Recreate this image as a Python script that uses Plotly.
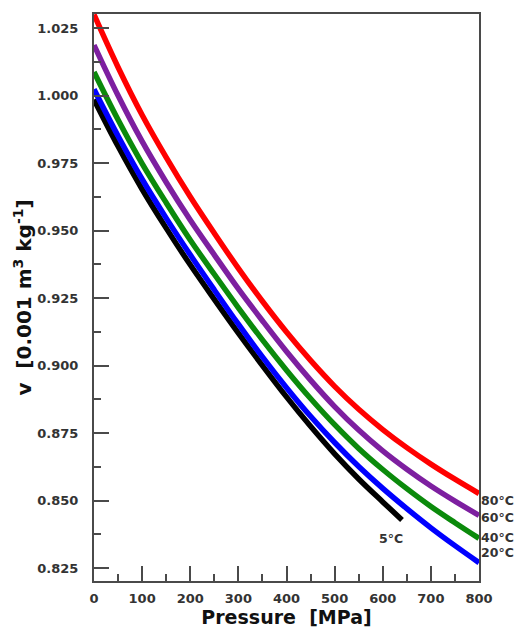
import plotly.graph_objects as go

pressure = [0, 50, 100, 150, 200, 250, 300, 350, 400, 450, 500, 550, 600, 650, 700, 750, 800]
v_80 = [1.0300, 1.0105, 0.9928, 0.9771, 0.9625, 0.9490, 0.9360, 0.9238, 0.9124, 0.9019,
        0.8923, 0.8838, 0.8763, 0.8696, 0.8635, 0.8579, 0.8526]
v_60 = [1.0187, 1.0000, 0.9830, 0.9679, 0.9539, 0.9410, 0.9284, 0.9166, 0.9052, 0.8946,
        0.8848, 0.8761, 0.8684, 0.8616, 0.8554, 0.8498, 0.8445]
v_40 = [1.0087, 0.9910, 0.9748, 0.9603, 0.9465, 0.9338, 0.9214, 0.9095, 0.8983, 0.8878,
        0.8781, 0.8693, 0.8615, 0.8544, 0.8478, 0.8418, 0.8360]
v_20 = [1.0023, 0.9850, 0.9690, 0.9546, 0.9410, 0.9280, 0.9153, 0.9032, 0.8918, 0.8812,
        0.8715, 0.8626, 0.8545, 0.8470, 0.8399, 0.8333, 0.8270]
pressure_5 = [0, 50, 100, 150, 200, 250, 300, 350, 400, 450, 500, 550, 600, 640]
v_5 = [0.9985, 0.9812, 0.9653, 0.9509, 0.9373, 0.9245, 0.9120, 0.9000, 0.8884, 0.8775,
       0.8673, 0.8580, 0.8495, 0.8428]

x_ticks = [0, 100, 200, 300, 400, 500, 600, 700, 800]
y_ticks = [0.825, 0.85, 0.875, 0.9, 0.925, 0.95, 0.975, 1.0, 1.025]

series = [
    ("5°C", pressure_5, v_5, "#000000"),
    ("20°C", pressure, v_20, "#0000ff"),
    ("40°C", pressure, v_40, "#0b8a0b"),
    ("60°C", pressure, v_60, "#7d1fa0"),
    ("80°C", pressure, v_80, "#ff0000"),
]

fig = go.Figure()
for name, xs, ys, col in series:
    fig.add_trace(go.Scatter(x=xs, y=ys, mode="lines", name=name,
                             line=dict(color=col, width=5.5, shape="spline"),
                             showlegend=False))

FONT = "DejaVu Sans"
label_font = dict(family=FONT, size=12.5, color="#333333")
end_labels = [("80°C", 0.8500), ("60°C", 0.8437), ("40°C", 0.8363), ("20°C", 0.8307)]
for txt, yv in end_labels:
    fig.add_annotation(x=800, y=yv, text="<b>%s</b>" % txt, showarrow=False,
                       xanchor="left", yanchor="middle", xshift=0, font=label_font)
fig.add_annotation(x=617, y=0.8359, text="<b>5°C</b>", showarrow=False,
                   xanchor="center", yanchor="middle", font=label_font)

axis_font = dict(family=FONT, size=13, color="#333333")
fig.update_layout(
    width=518, height=635,
    margin=dict(l=94, r=39, t=14, b=54),
    paper_bgcolor="white", plot_bgcolor="white",
    xaxis=dict(range=[0, 800], tickvals=x_ticks,
               ticktext=["<b>%d</b>" % t for t in x_ticks],
               ticks="inside", ticklen=15, tickwidth=1.5, tickcolor="#4a4a4a",
               minor=dict(ticks="inside", ticklen=7, tickwidth=1.5, tickcolor="#4a4a4a", dtick=50, showgrid=False),
               showline=True, linecolor="#4a4a4a", linewidth=2, mirror=True,
               showgrid=False, zeroline=False, tickfont=axis_font, ticklabelstandoff=4,
               title=dict(text="<b>Pressure  [MPa]</b>", font=dict(family=FONT, size=19, color="#111111"), standoff=4)),
    yaxis=dict(range=[0.8202, 1.0302],
               tickvals=y_ticks,
               ticktext=["<b>%.3f</b>" % t for t in y_ticks],
               ticks="inside", ticklen=15, tickwidth=1.5, tickcolor="#4a4a4a",
               minor=dict(ticks="inside", ticklen=7, tickwidth=1.5, tickcolor="#4a4a4a", dtick=0.0125, tick0=0.8125, showgrid=False),
               showline=True, linecolor="#4a4a4a", linewidth=2, mirror=True,
               showgrid=False, zeroline=False, tickfont=axis_font, ticklabelstandoff=11,
               title=dict(text="<b>v  [0.001 m<sup>3</sup> kg<sup>-1</sup>]</b>", font=dict(family=FONT, size=20, color="#111111"), standoff=0)),
)

fig.write_html("out.html", config={"displayModeBar": False},
               post_script="document.body.style.margin='0';document.body.style.overflow='hidden';")
